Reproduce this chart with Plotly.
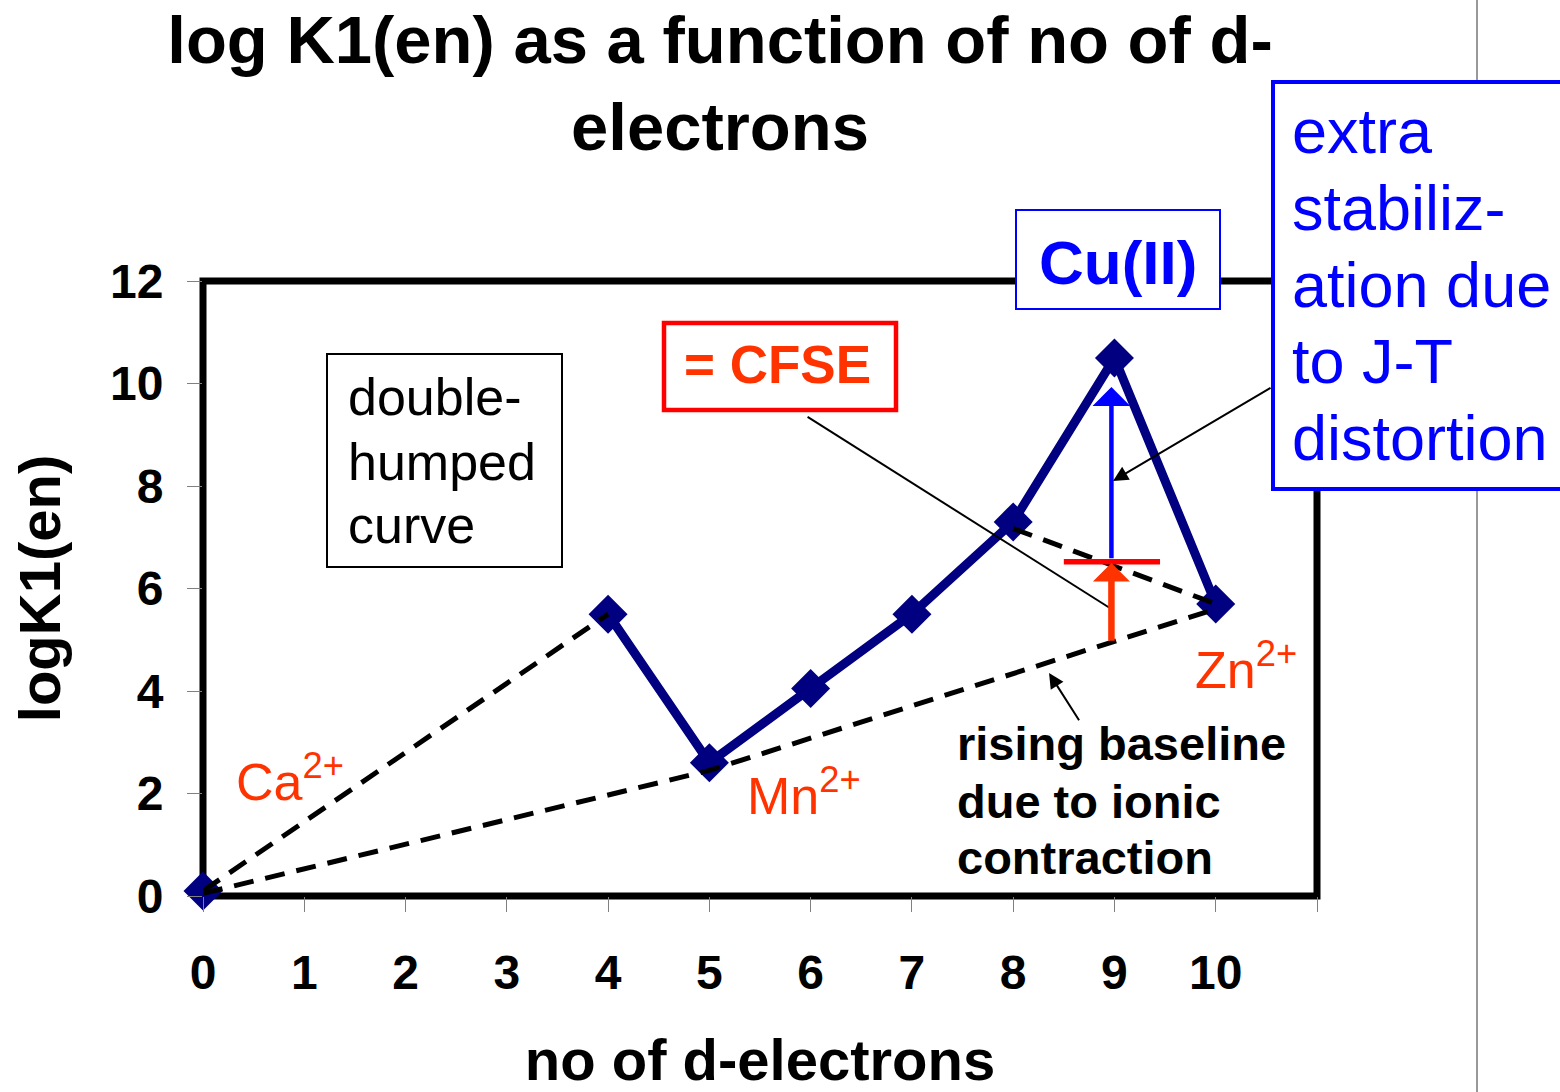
import plotly.graph_objects as go

# ---------------- data ----------------
d_electrons = [0, 4, 5, 6, 7, 8, 9, 10]
logK1 = [0.1, 5.5, 2.6, 4.05, 5.5, 7.3, 10.5, 5.7]

upper_dash_x = [0, 4]
upper_dash_y = [0.1, 5.5]
baseline_x = [0, 5, 10]
baseline_y = [0.05, 2.45, 5.6]
cu_dash_x = [8, 10]
cu_dash_y = [7.17, 5.7]

x_tickvals = list(range(0, 12))
x_ticktext = [str(v) for v in range(0, 11)] + [""]
y_tickvals = list(range(0, 13, 2))

# ---------------- geometry helpers ----------------
W, H = 1560, 1092
ML, MR, MT, MB = 203, 243, 281, 196
PW, PH = W - ML - MR, H - MT - MB


def pxx(px):
    return (px - ML) / PW


def pxy(py):
    return (H - MB - py) / PH


FONT = "Liberation Sans, Arial, sans-serif"
NAVY = "#000080"
ORANGE = "#FF3300"
BLUE = "#0000FF"
RED = "#FF0000"

fig = go.Figure()

# main curve (d4..d10)
fig.add_trace(go.Scatter(
    x=d_electrons[1:], y=logK1[1:], mode="lines+markers",
    line=dict(color=NAVY, width=9),
    marker=dict(symbol="diamond", size=30, color=NAVY),
    cliponaxis=False, showlegend=False, hoverinfo="skip"))
# Ca point
fig.add_trace(go.Scatter(
    x=d_electrons[:1], y=logK1[:1], mode="markers",
    marker=dict(symbol="diamond", size=30, color=NAVY),
    cliponaxis=False, showlegend=False, hoverinfo="skip"))

dash_style = dict(color="black", width=5, dash="20px,12px")
for xs, ys in [(upper_dash_x, upper_dash_y), (baseline_x, baseline_y), (cu_dash_x, cu_dash_y)]:
    fig.add_trace(go.Scatter(x=xs, y=ys, mode="lines", line=dash_style,
                             cliponaxis=False, showlegend=False, hoverinfo="skip"))

shapes = []
# thin vertical line at right of slide
shapes.append(dict(type="line", xref="paper", yref="paper",
                   x0=pxx(1477), x1=pxx(1477), y0=pxy(H), y1=pxy(0),
                   line=dict(color="#333333", width=1), layer="below"))
# plot border
shapes.append(dict(type="rect", xref="paper", yref="paper", x0=0, x1=1, y0=0, y1=1,
                   line=dict(color="black", width=7), layer="below"))
# boxes
shapes.append(dict(type="rect", xref="paper", yref="paper",
                   x0=pxx(327), x1=pxx(562), y0=pxy(567), y1=pxy(354),
                   line=dict(color="black", width=2), fillcolor="white", layer="above"))
shapes.append(dict(type="rect", xref="paper", yref="paper",
                   x0=pxx(664), x1=pxx(896), y0=pxy(410), y1=pxy(323),
                   line=dict(color=RED, width=4.5), fillcolor="white", layer="above"))
shapes.append(dict(type="rect", xref="paper", yref="paper",
                   x0=pxx(1016), x1=pxx(1220), y0=pxy(309), y1=pxy(210),
                   line=dict(color=BLUE, width=2), fillcolor="white", layer="above"))
shapes.append(dict(type="rect", xref="paper", yref="paper",
                   x0=pxx(1273), x1=pxx(1575), y0=pxy(489), y1=pxy(82),
                   line=dict(color=BLUE, width=4), fillcolor="white", layer="above"))
# red CFSE level line
shapes.append(dict(type="line", xref="x", yref="y", x0=8.5, x1=9.45, y0=6.52, y1=6.52,
                   line=dict(color=RED, width=5.5), layer="above"))
# leader line from CFSE box
shapes.append(dict(type="line", xref="x", yref="y", x0=5.97, y0=9.35, x1=8.97, y1=5.6,
                   line=dict(color="black", width=2), layer="above"))

annotations = []
# arrows
annotations.append(dict(x=8.97, y=9.93, ax=8.97, ay=6.56, xref="x", yref="y", axref="x", ayref="y",
                        text="", showarrow=True, arrowhead=1, arrowsize=1.4, arrowwidth=4.5,
                        arrowcolor=BLUE))
annotations.append(dict(x=8.97, y=6.5, ax=8.97, ay=4.95, xref="x", yref="y", axref="x", ayref="y",
                        text="", showarrow=True, arrowhead=1, arrowsize=0.95, arrowwidth=6.5,
                        arrowcolor=ORANGE))
annotations.append(dict(x=8.986, y=8.10, ax=10.556, ay=9.93, xref="x", yref="y", axref="x", ayref="y",
                        text="", showarrow=True, arrowhead=2, arrowsize=1.5, arrowwidth=2,
                        arrowcolor="black"))
annotations.append(dict(x=8.354, y=4.35, ax=8.66, ay=3.40, xref="x", yref="y", axref="x", ayref="y",
                        text="", showarrow=True, arrowhead=2, arrowsize=1.5, arrowwidth=2,
                        arrowcolor="black"))


def txt(s, left_px, baseline_px, size, color, bold=False, xanchor="left"):
    return dict(text=s, x=pxx(left_px), y=pxy(baseline_px - 0.35 * size), xref="paper", yref="paper",
                xanchor=xanchor, yanchor="middle", showarrow=False,
                font=dict(family=FONT, size=size, color=color, weight="bold" if bold else "normal"))


annotations += [
    txt("Ca<sup>2+</sup>", 234, 796, 52, ORANGE),
    txt("Mn<sup>2+</sup>", 745, 810, 52, ORANGE),
    txt("Zn<sup>2+</sup>", 1193, 684, 52, ORANGE),
    txt("rising baseline", 955, 760, 47, "black", True),
    txt("due to ionic", 955, 818, 47, "black", True),
    txt("contraction", 955, 874, 47, "black", True),
    txt("double-", 346, 415, 52, "black"),
    txt("humped", 346, 480, 52, "black"),
    txt("curve", 346, 543, 52, "black"),
    txt("= CFSE", 682, 383, 53, ORANGE, True),
    txt("Cu(II)", 1118, 284, 62, BLUE, True, xanchor="center"),
    txt("extra", 1290, 153, 63, BLUE),
    txt("stabiliz-", 1290, 230, 63, BLUE),
    txt("ation due", 1290, 307, 63, BLUE),
    txt("to J-T", 1290, 383, 63, BLUE),
    txt("distortion", 1290, 460, 63, BLUE),
]

fig.update_layout(
    width=W, height=H,
    margin=dict(l=ML, r=MR, t=MT, b=MB, autoexpand=False),
    paper_bgcolor="white", plot_bgcolor="rgba(0,0,0,0)",
    font=dict(family=FONT, color="black"),
    title=dict(text="log K1(en) as a function of no of d-<br>electrons",
               font=dict(family=FONT, size=67, color="black", weight="bold"),
               x=720 / W, xref="container", xanchor="center",
               y=1 - 63 / H, yref="container", yanchor="top"),
    showlegend=False,
    shapes=shapes, annotations=annotations,
    xaxis=dict(range=[0, 11], tickmode="array", tickvals=x_tickvals, ticktext=x_ticktext,
               ticks="outside", ticklen=15, tickwidth=1, tickcolor="#808080",
               tickfont=dict(family=FONT, size=48, color="black", weight="bold"),
               showgrid=False, zeroline=False, showline=False, ticklabelstandoff=19,
               title=dict(text="no of d-electrons", standoff=64,
                          font=dict(family=FONT, size=58, color="black", weight="bold"))),
    yaxis=dict(range=[0, 12], tickmode="array", tickvals=y_tickvals,
               ticks="outside", ticklen=15, tickwidth=1, tickcolor="#808080",
               tickfont=dict(family=FONT, size=48, color="black", weight="bold"),
               showgrid=False, zeroline=False, showline=False, ticklabelstandoff=14,
               title=dict(text="logK1(en)", standoff=30,
                          font=dict(family=FONT, size=58, color="black", weight="bold"))),
)

fig.write_html("out.html", config={"displayModeBar": False},
               post_script="document.body.style.margin='0';")
